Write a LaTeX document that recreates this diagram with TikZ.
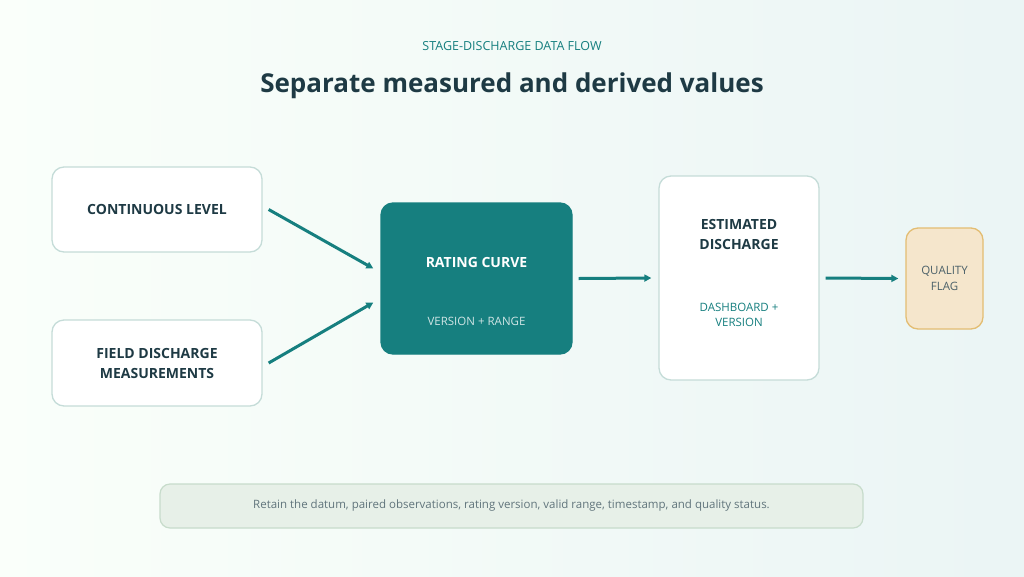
\documentclass[tikz,border=0pt]{standalone}
\usepackage{fontspec}
\setmainfont{Open Sans}
\usetikzlibrary{positioning,arrows.meta}
\definecolor{teal1}{HTML}{167F7F}
\definecolor{edgegray}{HTML}{C5DCD8}
\definecolor{darktxt}{HTML}{1E3A44}
\definecolor{flagfill}{HTML}{F5E6CC}
\definecolor{flagedge}{HTML}{E3BD72}
\definecolor{notefill}{HTML}{E7F0E8}
\definecolor{noteedge}{HTML}{C7DCCB}
\begin{document}
\begin{tikzpicture}[x=1pt,y=-1pt,
    >={Triangle[length=7pt,width=7pt]},
    ]
% -------------------------------------------------
% Box styles
\tikzset{
  base/.style={draw, rounded corners=12pt, line width=1.3pt, align=center,
    font={\fontsize{14}{20}\selectfont\bfseries}},
  plain/.style={base, draw=edgegray, fill=white, text=darktxt},
  core/.style={base, draw=teal1, fill=teal1, text=white},
  flag/.style={base, draw=flagedge, fill=flagfill, text=darktxt!80,
    font={\fontsize{11.5}{16}\selectfont}},
  flow/.style={->, draw=teal1, line width=3pt},
  sub/.style={font={\fontsize{11.5}{15}\selectfont}}
}
% -------------------------------------------------
% Background
\shade[left color=white!50!green!4, right color=teal!8]
  (0,0) rectangle (1024,576);
\useasboundingbox (0,0) rectangle (1024,576);
% Titles
\node[text=teal1, font={\fontsize{12.5}{14}\selectfont}] (kicker) at (512,46)
  {STAGE-DISCHARGE DATA FLOW};
\node[text=darktxt, font={\fontsize{26}{30}\selectfont\bfseries}] (title)
  at (512,86) {Separate measured and derived values};
% -------------------------------------------------
% Boxes
\node[plain, minimum width=210pt, minimum height=85pt] (level) at (157,209.5)
  {CONTINUOUS LEVEL};
\node[plain, minimum width=210pt, minimum height=86pt] (field) at (157,363)
  {FIELD DISCHARGE\\MEASUREMENTS};
\node[core, minimum width=191pt, minimum height=151pt] (rating) at (476.5,278.5) {};
\node[text=white, font={\fontsize{14}{20}\selectfont\bfseries}] (ratingT)
  at (476.5,262) {RATING CURVE};
\node[sub, text=white!80!teal1] (ratingS) at (476.5,321) {VERSION + RANGE};
\node[plain, minimum width=160pt, minimum height=204pt] (est) at (739,278) {};
\node[text=darktxt, align=center, font={\fontsize{14}{20}\selectfont\bfseries}]
  (estT) at (739,234.5) {ESTIMATED\\DISCHARGE};
\node[sub, text=teal1, align=center] (estS) at (739,314.5) {DASHBOARD +\\VERSION};
\node[flag, minimum width=77pt, minimum height=101pt] (qflag) at (944.5,278.5)
  {QUALITY\\FLAG};
% Note bar
\node[draw=noteedge, fill=notefill, rounded corners=10pt, line width=1.2pt,
  minimum width=703pt, minimum height=44pt, text=darktxt!70,
  font={\fontsize{11.5}{14}\selectfont}] (note) at (511.5,506)
  {Retain the datum, paired observations, rating version, valid range, timestamp, and quality status.};
% -------------------------------------------------
% Connectors
\draw[flow] (level.east) ++(6,0) coordinate (l0) -- ([xshift=-7pt,yshift=10pt]rating.west);
\draw[flow] (field.east) ++(6,0) coordinate (f0) -- ([xshift=-7pt,yshift=-24pt]rating.west);
\draw[flow] ([xshift=6pt]rating.east) -- ([xshift=-7pt]est.west);
\draw[flow] ([xshift=6pt]est.east) -- ([xshift=-7pt]qflag.west);
% -------------------------------------------------
\end{tikzpicture}
\end{document}
